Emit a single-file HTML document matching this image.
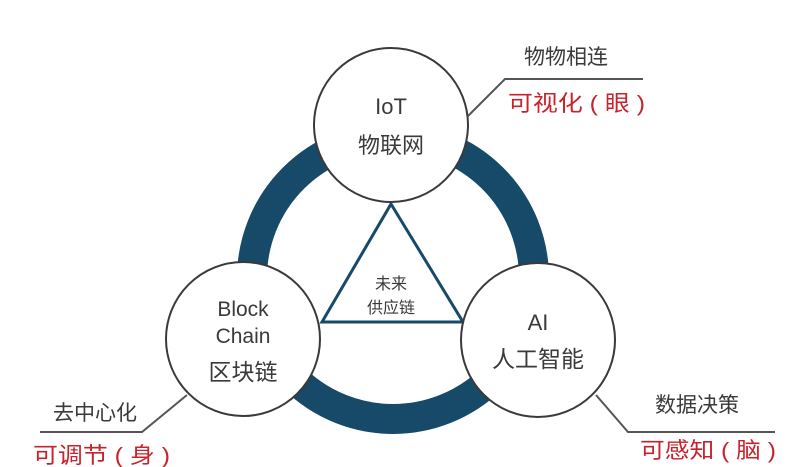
<!DOCTYPE html>
<html><head><meta charset="utf-8"><style>
html,body{margin:0;padding:0;background:#fff;}
svg{display:block;}
text{font-family:"Liberation Sans","Noto Sans CJK SC",sans-serif;}
</style></head><body>
<svg width="800" height="467" viewBox="0 0 800 467" xmlns="http://www.w3.org/2000/svg">
<rect width="800" height="467" fill="#fff"/>
<circle cx="393" cy="278" r="141" fill="none" stroke="#174a68" stroke-width="30"/>
<polygon points="391,204 322,322 463,322" fill="#fff" stroke="#174a68" stroke-width="3"/>
<g fill="#fff" stroke="#3a3a3a" stroke-width="2">
<circle cx="391" cy="125" r="77"/>
<circle cx="243" cy="339" r="77"/>
<circle cx="538" cy="340" r="77"/>
</g>
<g fill="none" stroke="#555" stroke-width="2">
<polyline points="468,116 505,79 643,79"/>
<polyline points="187,395 142,432 40,432"/>
<polyline points="596,395 628,432 775,432"/>
</g>
<g fill="#3a3a3a" text-anchor="middle">
<text x="391" y="114" font-size="22">IoT</text>
<text x="391" y="153" font-size="22">物联网</text>
<text x="243" y="316" font-size="21">Block</text>
<text x="243" y="343" font-size="21">Chain</text>
<text x="243" y="380" font-size="23">区块链</text>
<text x="538" y="330" font-size="22">AI</text>
<text x="538" y="367" font-size="23">人工智能</text>
<text x="391" y="289" font-size="16">未来</text>
<text x="391" y="313" font-size="16">供应链</text>
<text x="566" y="64" font-size="21">物物相连</text>
<text x="95" y="420" font-size="21">去中心化</text>
<text x="697" y="412" font-size="21">数据决策</text>
</g>
<g fill="#c8232c" font-size="22">
<text x="508" y="111" textLength="137" lengthAdjust="spacingAndGlyphs">可视化 ( 眼 )</text>
<text x="33" y="463" textLength="137" lengthAdjust="spacingAndGlyphs">可调节 ( 身 )</text>
<text x="640" y="458" textLength="136" lengthAdjust="spacingAndGlyphs">可感知 ( 脑 )</text>
</g>
</svg>
</body></html>
